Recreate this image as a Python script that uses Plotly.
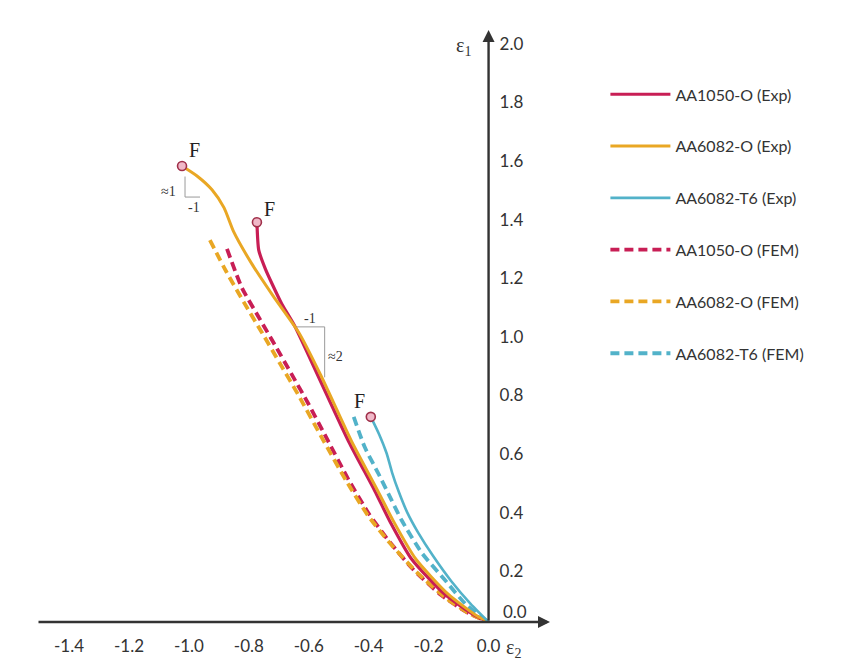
import plotly.graph_objects as go

# ---------------- data ----------------
series_names = ["AA1050-O (Exp)", "AA6082-O (Exp)", "AA6082-T6 (Exp)",
                "AA1050-O (FEM)", "AA6082-O (FEM)", "AA6082-T6 (FEM)"]

aa1050_exp_e2 = [-0.773, -0.767, -0.745, -0.723, -0.690, -0.647, -0.570, -0.467, -0.380, -0.330, -0.257, -0.147, -0.050, 0.0]
aa1050_exp_e1 = [1.364, 1.269, 1.205, 1.155, 1.085, 1.010, 0.842, 0.616, 0.448, 0.345, 0.215, 0.095, 0.025, 0.0]

aa6082o_exp_e2 = [-1.023, -0.973, -0.923, -0.883, -0.850, -0.790, -0.718, -0.633, -0.560, -0.457, -0.370, -0.318, -0.243, -0.135, -0.045, 0.0]
aa6082o_exp_e1 = [1.556, 1.522, 1.475, 1.414, 1.330, 1.222, 1.111, 0.987, 0.842, 0.616, 0.448, 0.345, 0.215, 0.095, 0.025, 0.0]

aa6082t6_exp_e2 = [-0.393, -0.365, -0.340, -0.322, -0.300, -0.272, -0.235, -0.185, -0.125, -0.060, 0.0]
aa6082t6_exp_e1 = [0.700, 0.640, 0.575, 0.510, 0.445, 0.375, 0.305, 0.225, 0.140, 0.062, 0.0]

aa1050_fem_e2 = [-0.873, -0.823, -0.767, -0.713, -0.657, -0.600, -0.547, -0.467, -0.400, -0.340, -0.257, -0.157, -0.073, 0.0]
aa1050_fem_e1 = [1.273, 1.140, 1.040, 0.945, 0.845, 0.742, 0.640, 0.485, 0.370, 0.286, 0.185, 0.091, 0.034, 0.0]

aa6082o_fem_e2 = [-0.930, -0.875, -0.815, -0.755, -0.695, -0.635, -0.557, -0.473, -0.403, -0.330, -0.240, -0.140, -0.063, 0.0]
aa6082o_fem_e1 = [1.303, 1.195, 1.088, 0.985, 0.880, 0.775, 0.630, 0.478, 0.364, 0.270, 0.170, 0.080, 0.028, 0.0]

aa6082t6_fem_e2 = [-0.450, -0.413, -0.367, -0.323, -0.290, -0.223, -0.147, -0.073, 0.0]
aa6082t6_fem_e1 = [0.700, 0.596, 0.505, 0.414, 0.347, 0.236, 0.145, 0.057, 0.0]

x_tick_vals = [-1.4, -1.2, -1.0, -0.8, -0.6, -0.4, -0.2, 0.0]
x_tick_text = ["-1.4", "-1.2", "-1.0", "-0.8", "-0.6", "-0.4", "-0.2", "0.0"]
y_tick_vals = [0.2, 0.4, 0.6, 0.8, 1.0, 1.2, 1.4, 1.6, 1.8, 2.0]
y_tick_text = ["0.2", "0.4", "0.6", "0.8", "1.0", "1.2", "1.4", "1.6", "1.8", "2.0"]

# ---------------- style ----------------
C_RED = "#c81e55"
C_YEL = "#e9a724"
C_TEAL = "#52b2c9"
AX = "#333333"
TICKFONT = dict(family="Lato, Open Sans, sans-serif", size=17, color="#333333")
SERIF = "Liberation Serif, DejaVu Serif, serif"

X0, X1 = -1.507, 0.205
Y0, Y1 = 0.0, 2.02

fig = go.Figure()

solid = [(aa1050_exp_e2, aa1050_exp_e1, C_RED, 3.2),
         (aa6082o_exp_e2, aa6082o_exp_e1, C_YEL, 3.0),
         (aa6082t6_exp_e2, aa6082t6_exp_e1, C_TEAL, 2.6)]
dashed = [(aa1050_fem_e2, aa1050_fem_e1, C_RED),
          (aa6082o_fem_e2, aa6082o_fem_e1, C_YEL),
          (aa6082t6_fem_e2, aa6082t6_fem_e1, C_TEAL)]

for i, (xs, ys, c) in enumerate(dashed):
    fig.add_trace(go.Scatter(x=xs, y=ys, mode="lines", name=series_names[3 + i],
                             legendrank=4 + i, legendgroup=f"g{3+i}",
                             line=dict(color=c, width=3.8, dash="9px,5px", shape="spline", smoothing=0.6)))
for i, (xs, ys, c, w) in enumerate(solid):
    fig.add_trace(go.Scatter(x=xs, y=ys, mode="lines", name=series_names[i],
                             legendrank=1 + i, legendgroup=f"g{i}",
                             line=dict(color=c, width=w, shape="spline", smoothing=0.6)))

# failure points (first point of each experimental curve)
fig.add_trace(go.Scatter(x=[aa6082o_exp_e2[0], aa1050_exp_e2[0], aa6082t6_exp_e2[0]],
                         y=[aa6082o_exp_e1[0], aa1050_exp_e1[0], aa6082t6_exp_e1[0]],
                         mode="markers", showlegend=False, hoverinfo="skip",
                         marker=dict(size=9, color="#f0b8c8", line=dict(color="#a0304a", width=1.6))))

annotations = []
annotations.append(dict(x=X1, y=0, ax=X0, ay=0, xref="x", yref="y", axref="x", ayref="y",
                        text="", showarrow=True, arrowhead=2, arrowsize=1.0, arrowwidth=2.4, arrowcolor=AX))
annotations.append(dict(x=0, y=Y1, ax=0, ay=0, xref="x", yref="y", axref="x", ayref="y",
                        text="", showarrow=True, arrowhead=2, arrowsize=1.0, arrowwidth=2.4, arrowcolor=AX))
annotations.append(dict(x=-0.083, y=1.965, xref="x", yref="y", text="ε<sub>1</sub>", showarrow=False,
                        font=dict(family=SERIF, size=20, color=AX)))
annotations.append(dict(x=0.083, y=-0.045, xref="x", yref="paper", yanchor="middle",
                        text="ε<sub>2</sub>", showarrow=False,
                        font=dict(family=SERIF, size=20, color=AX)))
annotations.append(dict(x=0.04, y=0.036, xref="x", yref="y", text="0.0", showarrow=False,
                        xanchor="left", font=TICKFONT))
for fx, fy in [(-0.983, 1.612), (-0.730, 1.408), (-0.430, 0.755)]:
    annotations.append(dict(x=fx, y=fy, xref="x", yref="y", text="F", showarrow=False,
                            font=dict(family=SERIF, size=20, color="#222222")))
SMALL = dict(family=SERIF, size=14, color="#333333")
annotations.append(dict(x=-1.067, y=1.47, xref="x", yref="y", text="≈1", showarrow=False, font=SMALL))
annotations.append(dict(x=-0.983, y=1.413, xref="x", yref="y", text="-1", showarrow=False, font=SMALL))
annotations.append(dict(x=-0.597, y=1.035, xref="x", yref="y", text="-1", showarrow=False, font=SMALL))
annotations.append(dict(x=-0.51, y=0.905, xref="x", yref="y", text="≈2", showarrow=False, font=SMALL))

shapes = []
tri = dict(color="#9a9a9a", width=1)
shapes.append(dict(type="line", x0=-1.013, x1=-1.013, y0=1.52, y1=1.45, xref="x", yref="y", line=tri))
shapes.append(dict(type="line", x0=-1.013, x1=-0.963, y0=1.45, y1=1.45, xref="x", yref="y", line=tri))
shapes.append(dict(type="line", x0=-0.640, x1=-0.547, y0=1.007, y1=1.007, xref="x", yref="y", line=tri))
shapes.append(dict(type="line", x0=-0.547, x1=-0.547, y0=1.007, y1=0.835, xref="x", yref="y", line=tri))

fig.update_layout(
    width=859, height=668,
    margin=dict(l=37, r=859 - 550, t=30, b=38),
    paper_bgcolor="white", plot_bgcolor="white",
    showlegend=True,
    legend=dict(x=1.108, y=0.92, xanchor="left", yanchor="top",
                font=dict(family="Lato, Open Sans, sans-serif", size=16, color="#333333"),
                itemwidth=60, tracegroupgap=28, bgcolor="rgba(0,0,0,0)", traceorder="grouped"),
    xaxis=dict(range=[X0, X1], showgrid=False, zeroline=False, showline=False,
               tickvals=x_tick_vals, ticktext=x_tick_text, ticks="",
               tickfont=TICKFONT, ticklabelstandoff=12, fixedrange=True),
    yaxis=dict(range=[Y0, Y1], showgrid=False, zeroline=False, showline=False,
               anchor="free", side="right", position=(0 - X0) / (X1 - X0),
               tickvals=y_tick_vals, ticktext=y_tick_text, ticks="",
               tickfont=TICKFONT, ticklabelstandoff=10, ticklabelshift=8, fixedrange=True),
    annotations=annotations,
    shapes=shapes,
)

fig.write_html("out.html")
